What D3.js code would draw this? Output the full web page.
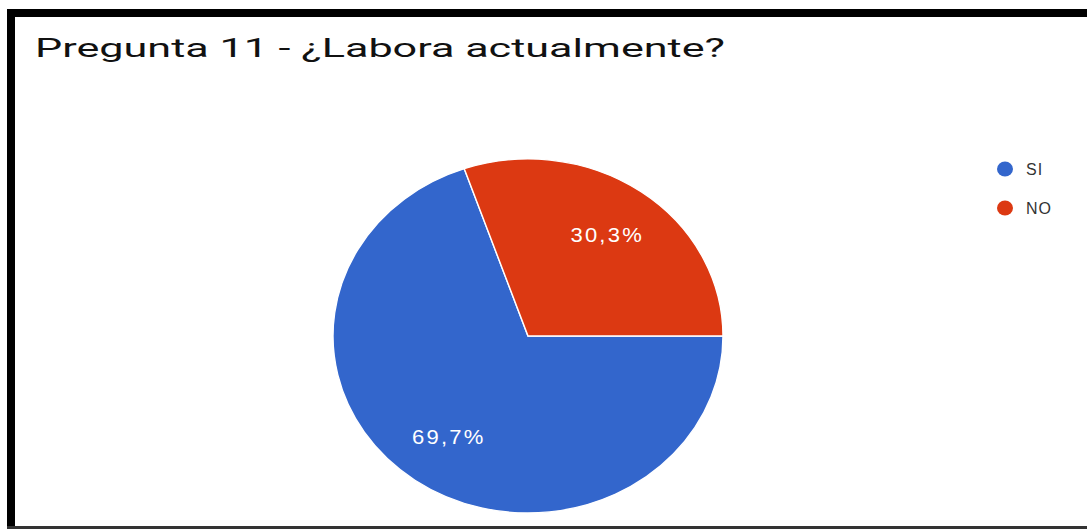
<!DOCTYPE html>
<meta charset="utf-8">
<style>
body { margin: 0; background: #fff; }
svg { display: block; font-family: Arial, 'Liberation Sans', sans-serif; }
</style>
<body>
<script src="https://d3js.org/d3.v7.min.js"></script>
<script>

// data
var categories = ["SI", "NO"];
var values = [69.7, 30.3];
var colors = ["#3366cc", "#dc3912"];
var title = "Pregunta 11 - \u00bfLabora actualmente?";

var width = 1087,
    height = 529;

// the screenshot is stretched sideways, so the pie is drawn with a x-stretch
var stretch = 195 / 177,
    radius = 177,
    cx = 528,
    cy = 336;

var svg = d3.select("body").append("svg")
    .attr("width", width)
    .attr("height", height);

svg.append("rect")
    .attr("width", width)
    .attr("height", height)
    .attr("fill", "#fff");

// frame (top, left and bottom edges of the cropped screenshot)
svg.append("rect").attr("x", 7).attr("y", 9).attr("width", width - 7).attr("height", 8).attr("fill", "#000");
svg.append("rect").attr("x", 7).attr("y", 9).attr("width", 8).attr("height", height - 9).attr("fill", "#000");
svg.append("rect").attr("x", 7).attr("y", 526).attr("width", width - 7).attr("height", 3).attr("fill", "#333");

svg.append("text")
    .attr("x", 35)
    .attr("y", 57)
    .attr("font-family", "Roboto, Arial, sans-serif")
    .attr("font-size", 25)
    .attr("fill", "#111")
    .attr("textLength", 690)
    .attr("lengthAdjust", "spacingAndGlyphs")
    .text(title);

var color = d3.scaleOrdinal().domain(categories).range(colors);

var pie = d3.pie()
    .sort(null)
    .startAngle(Math.PI / 2)
    .endAngle(Math.PI / 2 + 2 * Math.PI)
    .value(function(d) { return d.value; });

var arc = d3.arc().innerRadius(0).outerRadius(radius);
var labelArc = d3.arc().innerRadius(radius * 0.7).outerRadius(radius * 0.7);

var data = categories.map(function(c, i) { return {name: c, value: values[i]}; });
var total = d3.sum(values);

var g = svg.append("g")
    .attr("transform", "translate(" + cx + "," + cy + ") scale(" + stretch + ",1)");

g.selectAll("path")
    .data(pie(data))
    .enter().append("path")
    .attr("d", arc)
    .attr("fill", function(d) { return color(d.data.name); })
    .attr("stroke", "#fff")
    .attr("stroke-width", 1.3);

g.selectAll("text")
    .data(pie(data))
    .enter().append("text")
    .attr("transform", function(d) { return "translate(" + labelArc.centroid(d) + ")"; })
    .attr("dy", "0.36em")
    .attr("text-anchor", "middle")
    .attr("font-size", 20)
    .attr("letter-spacing", 2)
    .attr("fill", "#fff")
    .text(function(d) { return (d.data.value / total * 100).toFixed(1).replace(".", ",") + "%"; });

// legend
var legend = svg.append("g")
    .attr("transform", "translate(1005,169)");

var item = legend.selectAll("g")
    .data(categories)
    .enter().append("g")
    .attr("transform", function(d, i) { return "translate(0," + (i * 39) + ")"; });

item.append("ellipse")
    .attr("rx", 8)
    .attr("ry", 7.5)
    .attr("fill", function(d) { return color(d); });

item.append("text")
    .attr("x", 21)
    .attr("dy", "0.36em")
    .attr("font-size", 16)
    .attr("letter-spacing", 1)
    .attr("fill", "#333")
    .text(function(d) { return d; });

</script>
</body>
